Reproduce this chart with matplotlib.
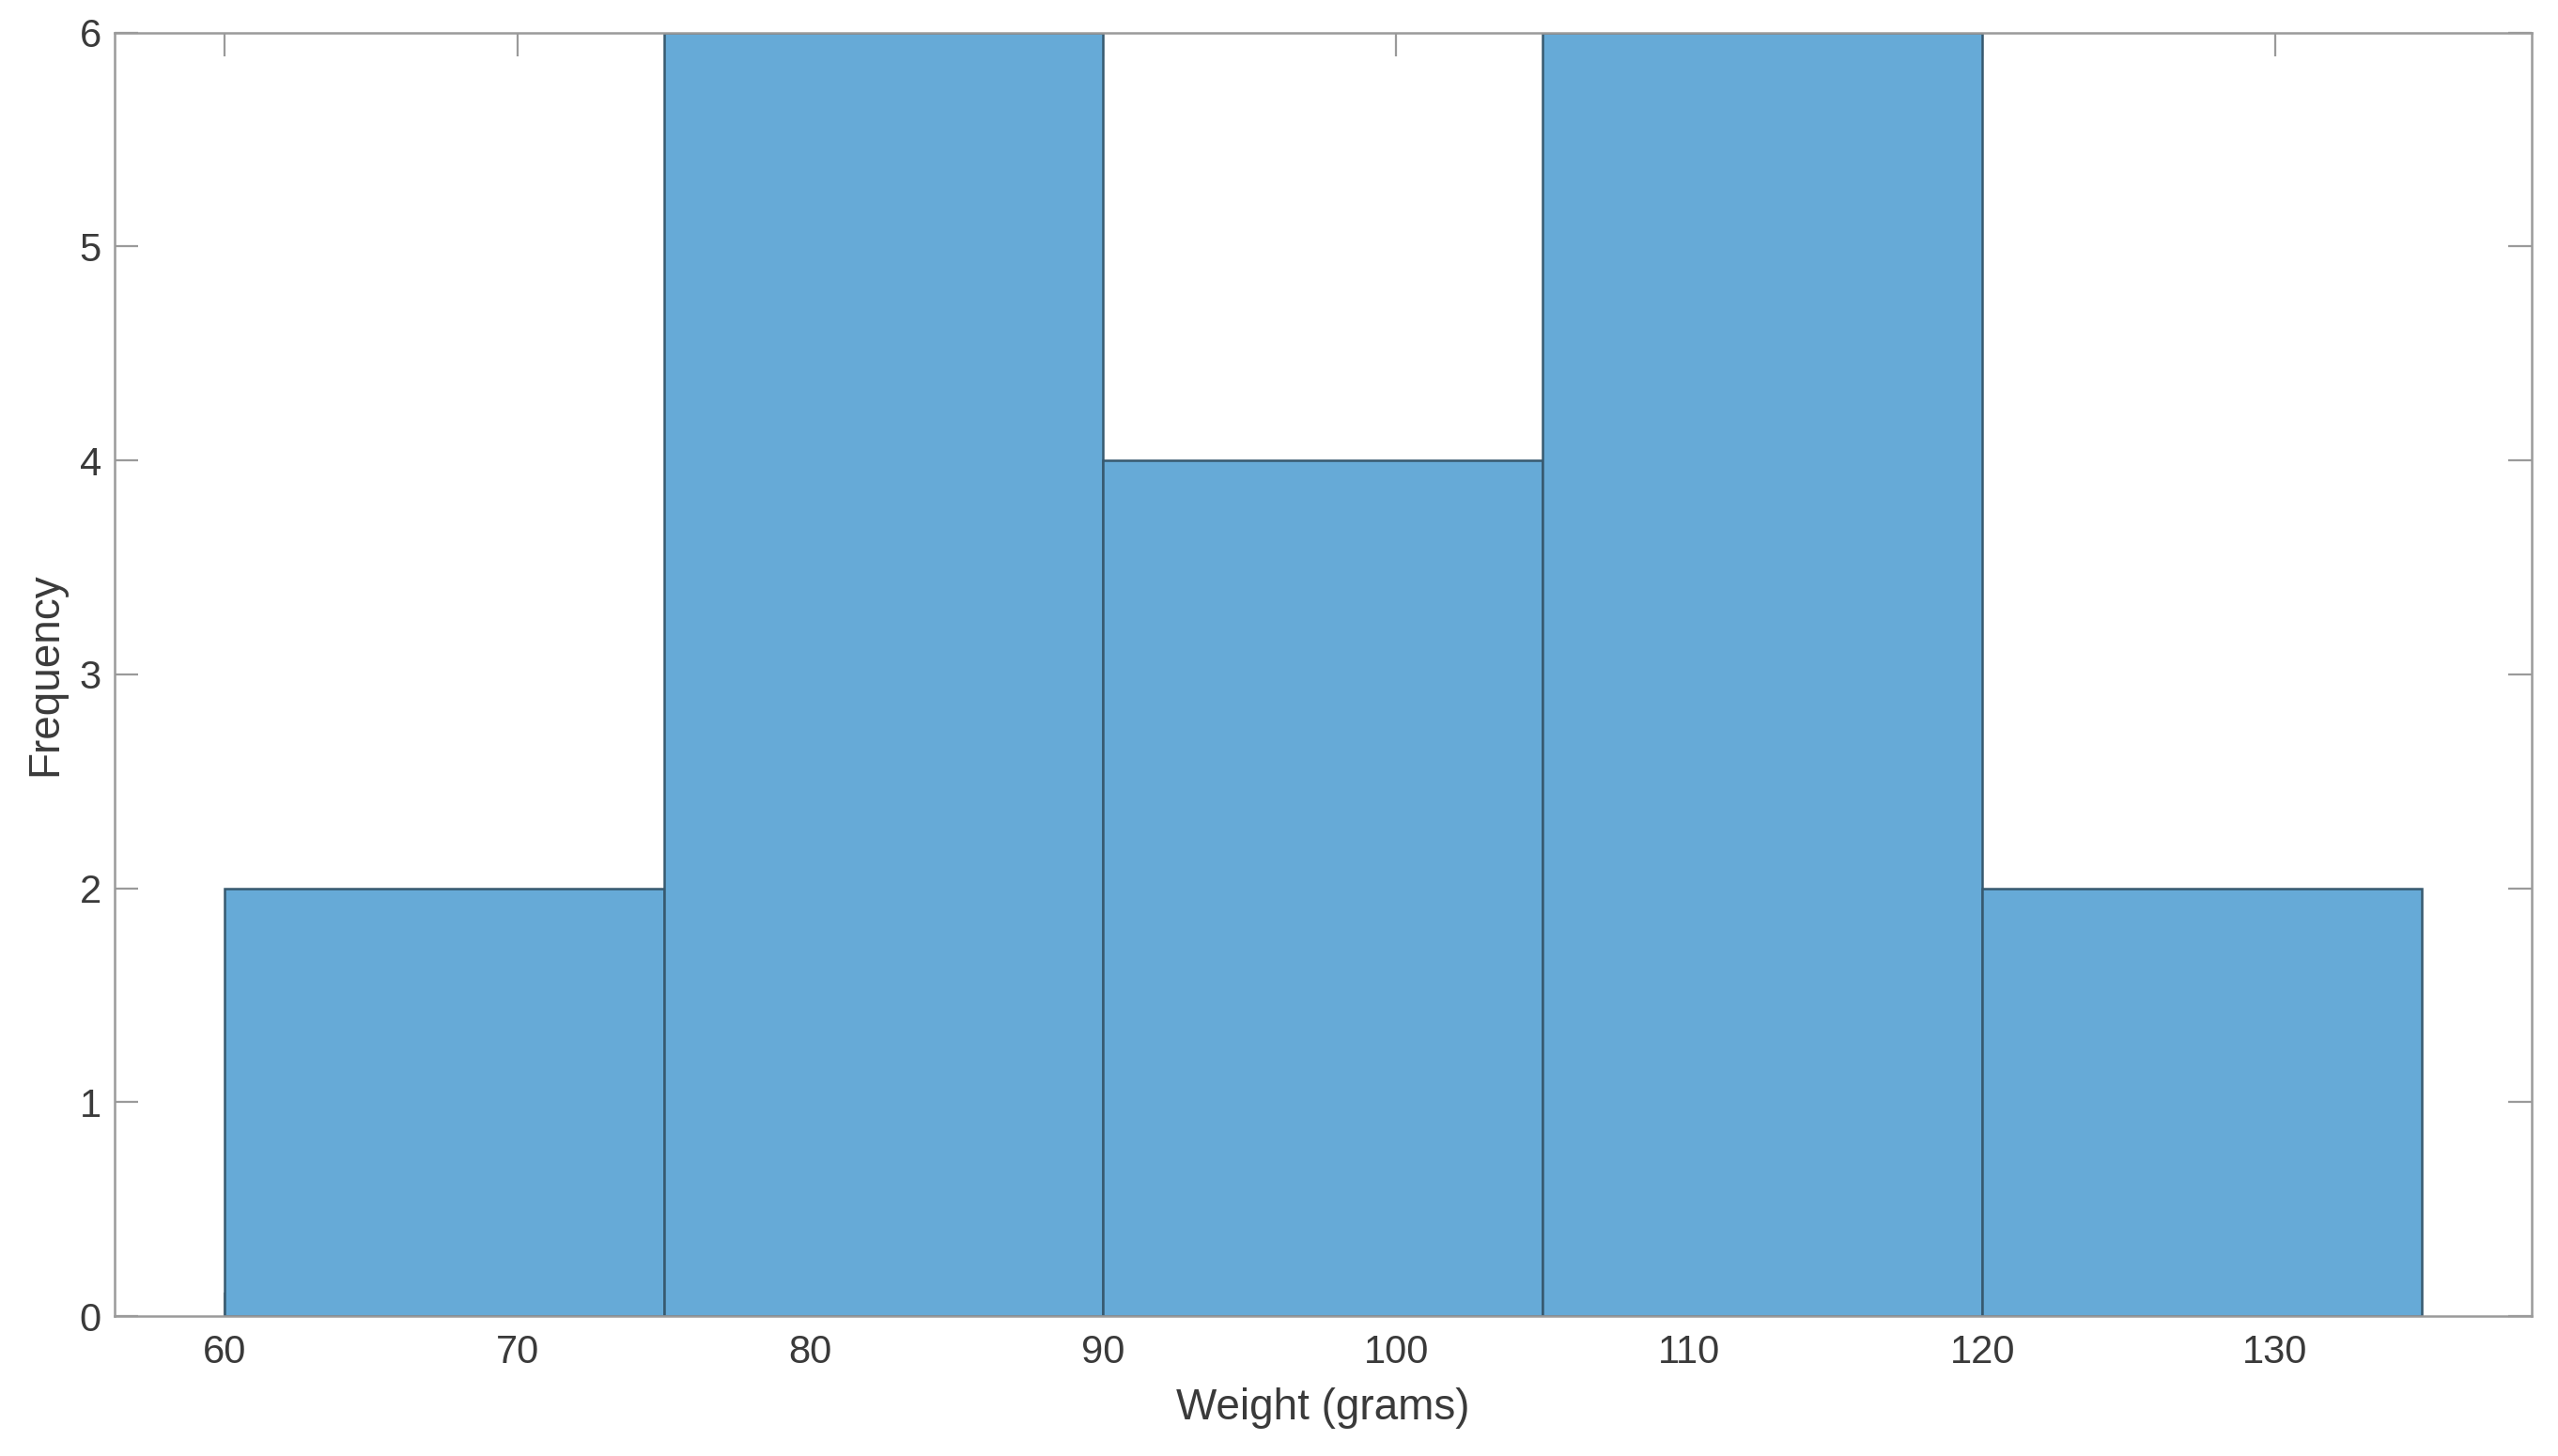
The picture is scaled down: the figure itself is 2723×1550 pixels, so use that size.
import numpy as np
import matplotlib
matplotlib.use("Agg")
import matplotlib.pyplot as plt

plt.rcParams['font.family'] = ['Liberation Sans', 'DejaVu Sans']

# histogram bins
bin_edges = [60, 75, 90, 105, 120, 135]
counts = [2, 6, 4, 6, 2]
x_ticks = [60, 70, 80, 90, 100, 110, 120, 130]
y_ticks = [0, 1, 2, 3, 4, 5, 6]

fig = plt.figure(figsize=(27.23, 15.5), dpi=100)
ax = fig.add_axes([0.0447, 0.0961, 0.9450, 0.8815])

ax.hist(bin_edges[:-1], bins=bin_edges, weights=counts,
        color='#66aad7', edgecolor='#37596f', linewidth=1.8, zorder=2)

ax.set_xlim(56.25, 138.75)
ax.set_ylim(0, 6)
ax.set_xticks(x_ticks)
ax.set_yticks(y_ticks)

ax.tick_params(direction='in', length=18, width=1.6, colors='#9a9a9a',
               labelcolor='#3a3a3a', labelsize=30, top=True, right=True)
ax.tick_params(axis='x', pad=14)
ax.tick_params(axis='y', pad=10)
for s in ax.spines.values():
    s.set_color('#9a9a9a')
    s.set_linewidth(1.8)
    s.set_zorder(3)

ax.set_xlabel('Weight (grams)', fontsize=33, color='#3a3a3a', labelpad=12)
ax.set_ylabel('Frequency', fontsize=33, color='#3a3a3a', labelpad=10)

fig.savefig('out.png', dpi=100)
